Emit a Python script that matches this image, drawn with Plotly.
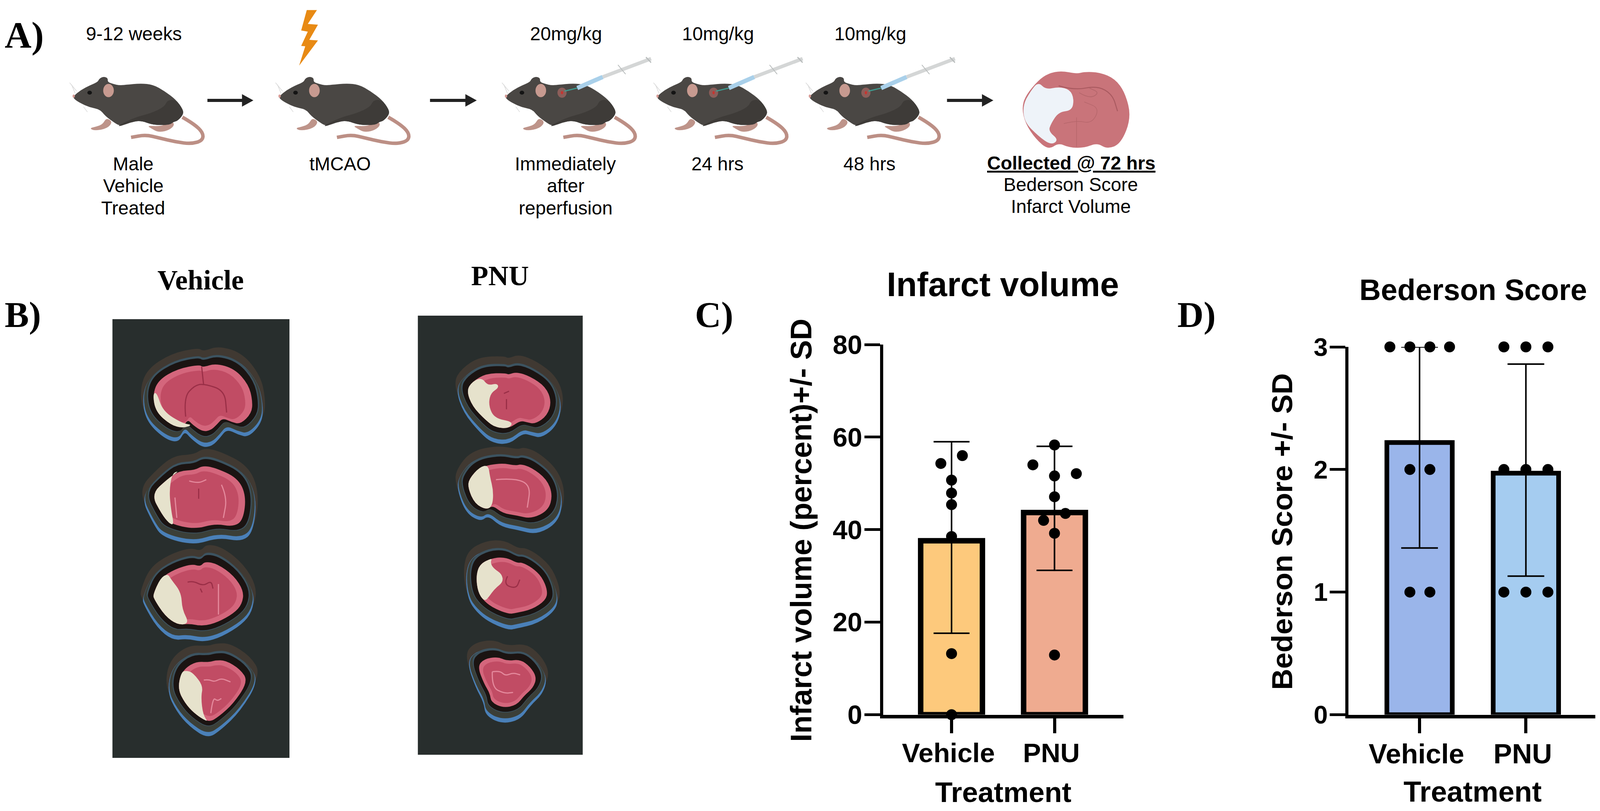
"""Infarct study figure: timeline, stained slices and two bar plots
"""
import plotly.graph_objects as go

# Size of the reference in pixels, everything below is placed in these coordinates
W = 4212
H = 2076
# What the plot really gets: the browser page, less the 8px body margin
PAGE_W = 4096
MARGIN = 8

##### Chart data #####
treatments = ['Vehicle', 'PNU']

infarct_bar = [37.6, 43.7]
infarct_upper = [59.0, 58.0]
infarct_lower = [17.6, 31.2]
infarct_vehicle_x = [-0.104, 0.105, 0, 0, 0, 0, 0, 0]
infarct_vehicle_y = [54.3, 56.0, 50.7, 47.9, 45.4, 38.5, 13.2, 0]
infarct_pnu_x = [-0.21, 0.212, 0, 0, 0, 0.106, -0.106, 0, 0]
infarct_pnu_y = [54.0, 52.1, 58.3, 51.6, 47.1, 43.5, 42.0, 39.2, 12.9]

bederson_bar = [2.22, 1.97]
bederson_upper = [3.0, 2.86]
bederson_lower = [1.36, 1.13]
bederson_vehicle_x = [-0.279, -0.091, 0.097, 0.282, -0.091, 0.097, -0.091, 0.097]
bederson_vehicle_y = [3, 3, 3, 3, 2, 2, 1, 1]
bederson_pnu_x = [-0.207, 0, 0.207, -0.207, 0, 0.207, -0.207, 0, 0.207]
bederson_pnu_y = [3, 3, 3, 2, 2, 2, 1, 1, 1]


##### Helper functions #####
def fx(x):
    return (x * PAGE_W / W - MARGIN) / (PAGE_W - 2 * MARGIN)


def fy(y):
    return 1 - (y - MARGIN) / (H - 2 * MARGIN)


def smooth(points, closed=True):
    """Quadratic path through the midpoints of a point list given in pixels"""
    pts = [(fx(x), fy(y)) for x, y in points]
    if closed:
        mid = lambda a, b: ((a[0] + b[0]) / 2, (a[1] + b[1]) / 2)
        start = mid(pts[-1], pts[0])
        d = f'M{start[0]:.5f},{start[1]:.5f}'
        for i, p in enumerate(pts):
            m = mid(p, pts[(i + 1) % len(pts)])
            d += f' Q{p[0]:.5f},{p[1]:.5f} {m[0]:.5f},{m[1]:.5f}'
        return d + ' Z'
    d = f'M{pts[0][0]:.5f},{pts[0][1]:.5f}'
    for i in range(1, len(pts) - 1):
        m = ((pts[i][0] + pts[i + 1][0]) / 2, (pts[i][1] + pts[i + 1][1]) / 2)
        d += f' Q{pts[i][0]:.5f},{pts[i][1]:.5f} {m[0]:.5f},{m[1]:.5f}'
    d += f' L{pts[-1][0]:.5f},{pts[-1][1]:.5f}'
    return d


def poly(points):
    return 'M' + ' L'.join(f'{fx(x):.5f},{fy(y):.5f}' for x, y in points) + ' Z'


shapes = []


def add_fill(path, color, opacity=1.0):
    shapes.append(dict(type='path', path=path, xref='paper', yref='paper', layer='below',
                       fillcolor=color, opacity=opacity, line=dict(width=0)))


def add_line(path, color, width, opacity=1.0):
    shapes.append(dict(type='path', path=path, xref='paper', yref='paper', layer='below',
                       line=dict(color=color, width=width), opacity=opacity))


def add_ellipse(cx, cy, rx, ry, color):
    shapes.append(dict(type='circle', xref='paper', yref='paper', layer='below',
                       x0=fx(cx - rx), x1=fx(cx + rx), y0=fy(cy + ry), y1=fy(cy - ry),
                       fillcolor=color, line=dict(width=0)))


def add_rect(x0, x1, y0, y1, color):
    shapes.append(dict(type='rect', xref='paper', yref='paper', layer='below',
                       x0=fx(x0), x1=fx(x1), y0=fy(y1), y1=fy(y0),
                       fillcolor=color, line=dict(width=0)))


annotations = []


def label(text, x, y, size, bold=False, family='Liberation Sans', anchor='center', angle=0):
    annotations.append(dict(text=text, x=fx(x), y=fy(y), xref='paper', yref='paper',
                            xanchor=anchor, yanchor='middle', showarrow=False, textangle=angle,
                            font=dict(family=family, size=size, color='black',
                                      weight=700 if bold else 400)))


##### Timeline drawings #####
MOUSE_BODY = [(68, 200), (130, 150), (200, 115), (262, 90), (275, 62), (310, 48), (342, 60), (340, 90), (385, 105),
              (430, 115), (480, 112), (600, 100), (700, 110), (790, 160), (880, 225), (935, 300), (938, 340),
              (890, 390), (860, 395), (830, 420), (700, 420), (600, 385), (520, 400), (440, 430), (390, 400),
              (320, 350), (280, 300), (200, 285), (120, 250), (75, 220)]
MOUSE_BELLY = [(420, 425), (560, 360), (680, 330), (790, 280), (810, 230), (880, 225), (935, 300), (938, 340),
               (890, 390), (860, 395), (830, 420), (700, 420), (600, 385), (520, 400), (440, 430)]
MOUSE_TAIL = [(930, 360), (1020, 410), (1095, 480), (1090, 540), (1000, 565), (880, 550), (750, 520), (640, 495), (525, 515)]
MOUSE_FRONT_FOOT = [(330, 365), (380, 395), (340, 445), (240, 465), (195, 445), (250, 432), (300, 415)]
MOUSE_BACK_FOOT = [(860, 395), (865, 430), (810, 465), (740, 475), (690, 450), (650, 425), (750, 430), (810, 410)]


def draw_mouse(dx, injected=False):
    to_px = lambda pts: [(170 + x / 3 + dx, 180 + y / 3) for x, y in pts]
    add_line(smooth(to_px(MOUSE_TAIL), closed=False), '#BC8F85', 9)
    add_fill(smooth(to_px(MOUSE_FRONT_FOOT)), '#BE948A')
    add_fill(smooth(to_px(MOUSE_BACK_FOOT)), '#BE948A')
    add_fill(smooth(to_px(MOUSE_BODY)), '#4A4744')
    add_fill(smooth(to_px(MOUSE_BELLY)), '#3E3B38')
    ex, ey = to_px([(347, 155)])[0]
    add_ellipse(ex, ey, 14, 17, '#C79A90')
    ex, ey = to_px([(198, 172)])[0]
    add_ellipse(ex, ey, 6, 5, '#141414')
    ex, ey = to_px([(72, 198)])[0]
    add_ellipse(ex, ey, 3, 4, '#D69A94')
    add_line(poly(to_px([(40, 95), (95, 160)])), '#D8D8D8', 1.5)
    add_line(poly(to_px([(55, 110), (85, 180)])), '#D8D8D8', 1.5)
    add_line(poly(to_px([(150, 280), (180, 320)])), '#D8D8D8', 1.5)
    if injected:
        # syringe
        to_px2 = lambda pts: [(x / 0.7467 + dx, y / 2.529) for x, y in pts]
        ex, ey = to_px2([(255, 600)])[0]
        add_ellipse(ex, ey, 12, 13, '#8C5E5A')
        add_ellipse(ex, ey, 3, 4, '#C8342F')
        add_line(poly(to_px2([(260, 590), (285, 570)])), '#3E9C90', 3)
        add_line(poly(to_px2([(285, 570), (335, 498)])), '#A9D0EA', 11)
        add_line(poly(to_px2([(335, 498), (430, 380)])), '#D4D6D6', 9)
        add_line(poly(to_px2([(365, 420), (380, 480)])), '#B8BCBC', 2)
        add_line(poly(to_px2([(420, 370), (430, 405)])), '#B8BCBC', 3)


for mouse_dx in [0, 542]:
    draw_mouse(mouse_dx)
for mouse_dx in [1138, 1537, 1938]:
    draw_mouse(mouse_dx, injected=True)

# Arrows between the steps
for x0, x1 in [(546, 667), (1132, 1255), (2493, 2615)]:
    add_rect(x0, x1 - 28, 253, 261, '#222222')
    add_fill(poly([(x1 - 30, 241), (x1, 257), (x1 - 30, 273)]), '#222222')

# Lightning bolt above the tMCAO mouse
bolt = [(603, 65), (623, 65), (605, 155), (625, 160), (608, 258), (625, 262), (588, 425), (600, 300),
        (592, 297), (605, 205), (592, 197)]
add_fill(poly([(x / 0.7467, y / 2.529) for x, y in bolt]), '#E88A14')

# Brain cartoon at the end of the timeline
to_brain = lambda pts: [(x / 0.7424 + 2100, y / 2.529) for x, y in pts]
add_fill(smooth(to_brain([(545, 478), (515, 458), (490, 475), (470, 520), (445, 620), (438, 700), (445, 800),
                          (465, 900), (490, 970), (510, 925), (530, 955), (560, 958), (585, 925), (605, 965),
                          (632, 930), (652, 760), (640, 600), (620, 510), (590, 468), (560, 465)])), '#C9747A')
add_fill(smooth(to_brain([(470, 530), (485, 580), (510, 562), (532, 580), (540, 640), (536, 715), (510, 725),
                          (495, 800), (490, 850), (510, 905), (495, 940), (470, 880), (443, 790), (440, 680),
                          (455, 590)])), '#EEF3F9')
add_line(smooth(to_brain([(510, 555), (540, 585), (585, 555), (615, 610), (625, 720)]), closed=False), '#A95A60', 2.5)
add_line(smooth(to_brain([(550, 600), (570, 640), (590, 600), (570, 570)]), closed=False), '#B5666B', 2)
add_line(smooth(to_brain([(545, 760), (545, 950)]), closed=False), '#B5666B', 1.5)
add_line(smooth(to_brain([(520, 800), (545, 780), (575, 800), (590, 700), (560, 660)]), closed=False), '#B5666B', 1.5)

##### Stained slices #####
add_rect(296, 762, 817, 1940, '#282E2D')
add_rect(1100, 1534, 808, 1932, '#282E2D')

DARK = '#9A2F47'
LIGHT = '#E4899C'

# box in pixels, outline and infarct in 0-1 box coordinates, inner lines as (colour, points)
slices = [
    dict(box=(402, 665, 930, 1105),
         outline=[(.50, 1.0), (.40, .90), (.35, .82), (.30, .95), (.18, .90), (.03, .71), (0, .45), (.06, .24), (.25, .08),
                  (.47, .02), (.50, .06), (.63, 0), (.82, .08), (.96, .31), (1.0, .55), (.99, .73), (.88, .89), (.79, .86),
                  (.70, .80), (.64, .90), (.58, .98)],
         pale=[(.03, .71), (0, .45), (.04, .42), (.1, .7), (.3, .88), (.40, .90), (.30, .95), (.18, .90)],
         lines=[(DARK, [(.33, .78), (.31, .50), (.42, .32), (.52, .30), (.72, .40), (.74, .72)]),
                (DARK, [(.49, .05), (.51, .32)])]),
    dict(box=(398, 648, 1192, 1355),
         outline=[(.46, .07), (.30, .08), (.17, .21), (0, .45), (.11, .76), (.19, .91), (.46, 1.0), (.67, .91), (.87, .96),
                  (.97, .85), (1.0, .47), (.91, .19), (.67, .03), (.54, 0)],
         pale=[(.30, .08), (.17, .21), (0, .45), (.11, .76), (.19, .91), (.24, .93), (.21, .7), (.19, .4), (.22, .12)],
         lines=[(LIGHT, [(.40, .24), (.49, .28), (.58, .22)]), (LIGHT, [(.25, .5), (.27, .82)]),
                (LIGHT, [(.74, .3), (.80, .5), (.76, .82)]), (DARK, [(.5, .36), (.5, .52)])]),
    dict(box=(403, 642, 1437, 1603),
         outline=[(.55, 1.0), (.40, .96), (.27, .98), (.13, .84), (.01, .58), (0, .51), (.08, .26), (.24, .12), (.43, .04),
                  (.52, .08), (.57, 0), (.71, .04), (.89, .22), (1.0, .46), (.98, .66), (.89, .80), (.71, .94)],
         pale=[(.40, .96), (.27, .98), (.13, .84), (.01, .58), (0, .51), (.08, .26), (.16, .19), (.2, .28), (.31, .48),
               (.32, .74)],
         lines=[(DARK, [(.38, .32), (.44, .30), (.55, .38), (.64, .30), (.66, .42)]),
                (LIGHT, [(.72, .35), (.72, .82)]), (DARK, [(.52, .42), (.54, .48)])]),
    dict(box=(468, 653, 1687, 1850),
         outline=[(.45, .05), (.24, .04), (.05, .2), (0, .47), (.1, .69), (.24, .86), (.44, 1.0), (.59, .9), (.8, .69),
                  (1.0, .35), (.89, .16), (.68, .02), (.53, .02)],
         pale=[(.05, .2), (0, .47), (.1, .69), (.24, .86), (.44, 1.0), (.36, .88), (.33, .6), (.36, .42), (.22, .22), (.13, .18)],
         lines=[(LIGHT, [(.37, .33), (.44, .32), (.52, .36), (.62, .30), (.75, .36)]),
                (LIGHT, [(.47, .85), (.50, .60), (.56, .66), (.62, .62)])]),
    dict(box=(1228, 1452, 952, 1097),
         outline=[(0, .33), (.07, .61), (.23, .86), (.34, .98), (.5, 1.0), (.63, .86), (.71, .89), (.81, .92), (.95, .77),
                  (1.0, .52), (.93, .26), (.75, .08), (.59, 0), (.49, .05), (.46, .02), (.23, .03), (.07, .17)],
         pale=[(.07, .17), (0, .33), (.07, .61), (.23, .86), (.34, .98), (.5, 1.0), (.55, .88), (.33, .82), (.26, .6),
               (.28, .38), (.38, .28), (.36, .2), (.25, .24), (.18, .10)],
         lines=[(DARK, [(.44, .38), (.50, .34)]), (DARK, [(.47, .48), (.47, .66)])]),
    dict(box=(1232, 1455, 1185, 1328),
         outline=[(.57, .05), (.39, 0), (.14, .07), (.01, .29), (0, .45), (.08, .73), (.22, .84), (.29, .76), (.41, .9),
                  (.57, .94), (.75, 1.0), (.95, .85), (1.0, .57), (.93, .29), (.75, .08), (.62, .02)],
         pale=[(.14, .07), (.01, .29), (0, .45), (.08, .73), (.22, .84), (.29, .76), (.30, .5), (.26, .25), (.24, .04)],
         lines=[(LIGHT, [(.33, .30), (.55, .27), (.74, .40), (.70, .80)])]),
    dict(box=(1253, 1442, 1425, 1572),
         outline=[(.57, .11), (.42, .01), (.23, .02), (.05, .13), (0, .35), (.03, .63), (.12, .78), (.25, .9), (.46, 1.0),
                  (.55, .98), (.78, .92), (.97, .76), (1.0, .6), (.92, .35), (.78, .19), (.64, .1)],
         pale=[(.23, .02), (.05, .13), (0, .35), (.03, .63), (.12, .78), (.18, .7), (.26, .56), (.38, .44), (.36, .3),
               (.24, .2), (.2, .1)],
         lines=[(DARK, [(.44, .34), (.38, .48), (.56, .56), (.61, .40)])]),
    dict(box=(1257, 1413, 1680, 1812),
         outline=[(.5, .09), (.34, .01), (.11, .05), (0, .2), (.11, .53), (.21, .72), (.23, .89), (.43, 1.0), (.66, .95),
                  (.79, .76), (.94, .61), (1.0, .41), (.89, .2), (.72, .06)],
         pale=[],
         lines=[(LIGHT, [(.25, .30), (.38, .28), (.47, .38), (.60, .32), (.72, .36)]),
                (LIGHT, [(.25, .30), (.24, .60), (.45, .72), (.60, .70)])]),
]


def draw_slice(box, outline, pale, lines):
    x0, x1, y0, y1 = box
    w = x1 - x0
    h = y1 - y0
    cx = (x0 + x1) / 2
    cy = (y0 + y1) / 2
    to_px = lambda pts: [(x0 + w * u, y0 + h * v) for u, v in pts]

    def grown(pad_x, pad_y, shift=0.0):
        # outline pushed outwards by a number of pixels
        return [(cx + (u - 0.5) * (w + 2 * pad_x), cy + (v - 0.5) * (h + 2 * pad_y) + shift) for u, v in outline]

    add_fill(smooth(grown(34, 36, -9)), '#4A3E34', 0.7)
    add_fill(smooth(grown(28, 32, 9)), '#4A80B8')
    add_fill(smooth(grown(26, 26, 4)), '#3B3F38')
    add_fill(smooth(grown(18, 20, -5)), '#3C5360')
    add_fill(smooth(grown(15, 16, -3)), '#1B1412')
    add_fill(smooth(grown(0, 0)), '#D4667C')
    add_fill(smooth(grown(-w * 0.07, -h * 0.08)), '#C14C64')
    for color, pts in lines:
        add_line(smooth(to_px(pts), closed=False), color, 3)
    if pale:
        add_fill(smooth(to_px(pale)), '#E6E2CC')


for s in slices:
    draw_slice(**s)

##### Text outside the axes #####
label('A)', 10, 90, 95, True, 'Liberation Serif', 'left')
label('B)', 10, 805, 93, True, 'Liberation Serif', 'left')
label('C)', 1827, 805, 93, True, 'Liberation Serif', 'left')
label('D)', 3097, 805, 93, True, 'Liberation Serif', 'left')

label('9-12 weeks', 352, 87, 48)
label('20mg/kg', 1490, 87, 48)
label('10mg/kg', 1890, 87, 48)
label('10mg/kg', 2291, 87, 48)
for text, y in zip(['Male', 'Vehicle', 'Treated'], [420, 476, 532]):
    label(text, 351, y, 48)
label('tMCAO', 895, 420, 48)
for text, y in zip(['Immediately', 'after', 'reperfusion'], [420, 476, 532]):
    label(text, 1489, y, 48)
label('24 hrs', 1888, 420, 48)
label('48 hrs', 2289, 420, 48)
label('<u>Collected @ 72 hrs</u>', 2820, 417, 48, True)
label('Bederson Score', 2819, 472, 48)
label('Infarct Volume', 2819, 528, 48)

label('Vehicle', 528, 717, 72, True, 'Liberation Serif')
label('PNU', 1316, 706, 72, True, 'Liberation Serif')

label('Infarct volume', 2640, 727, 87, True)
label('Bederson Score', 3878, 741, 76, True)
label('Treatment', 2641, 2027, 73, True)
label('Treatment', 3877, 2026, 74, True)
label('Infarct volume (percent)+/- SD', 2108, 1357, 76, True, angle=-90)
label('Bederson Score +/- SD', 3375, 1361, 75, True, angle=-90)


##### Bar plots #####
def add_bars(fig, xaxis, yaxis, bar, upper, lower, colors, points, stroke):
    fig.add_trace(go.Bar(x=[0, 1], y=bar, width=stroke['width'], xaxis=xaxis, yaxis=yaxis,
                         marker=dict(color=colors, line=dict(color='black', width=stroke['line'])),
                         error_y=dict(type='data', symmetric=False,
                                      array=[u - b for u, b in zip(upper, bar)],
                                      arrayminus=[b - l for l, b in zip(lower, bar)],
                                      color='black', thickness=4, width=stroke['cap'])))
    for px_, py_, center in points:
        fig.add_trace(go.Scatter(x=[center + p for p in px_], y=py_, mode='markers', xaxis=xaxis, yaxis=yaxis,
                                 cliponaxis=False, marker=dict(color='black', size=28)))


fig = go.Figure()

add_bars(fig, 'x', 'y', infarct_bar, infarct_upper, infarct_lower, ['#FDC97C', '#EFAB90'],
         [(infarct_vehicle_x, infarct_vehicle_y, 0), (infarct_pnu_x, infarct_pnu_y, 1)],
         dict(width=0.60, line=14, cap=46))
add_bars(fig, 'x2', 'y2', bederson_bar, bederson_upper, bederson_lower, ['#9AB5EA', '#A5CCF0'],
         [(bederson_vehicle_x, bederson_vehicle_y, 0), (bederson_pnu_x, bederson_pnu_y, 1)],
         dict(width=0.615, line=12, cap=47))

x_style = dict(tickmode='array', tickvals=[0, 1], ticktext=treatments, ticks='outside', ticklen=38, tickwidth=8,
               linewidth=9, linecolor='black', tickcolor='black', showgrid=False, zeroline=False,
               ticklabelstandoff=-8, ticklabelshift=-8)
y_style = dict(ticks='outside', ticklen=40, tickwidth=7, linewidth=8, linecolor='black', tickcolor='black',
               showgrid=False, zeroline=False, ticklabelstandoff=-8)

fig.update_layout(
    margin=dict(l=0, r=0, t=0, b=0), showlegend=False, template='none',
    paper_bgcolor='white', plot_bgcolor='rgba(0,0,0,0)', shapes=shapes, annotations=annotations,
    xaxis=dict(domain=[fx(2325), fx(2957)], range=[-0.664, 1.668], anchor='y',
               tickfont=dict(family='Liberation Sans', size=69, color='black', weight=700), **x_style),
    yaxis=dict(domain=[fy(1829.5), fy(882)], range=[0, 80], tickvals=[0, 20, 40, 60, 80], anchor='x',
               tickfont=dict(family='Liberation Sans', size=68, color='black', weight=700), **y_style),
    xaxis2=dict(domain=[fx(3550), fx(4200)], range=[-0.668, 1.654], anchor='y2',
                tickfont=dict(family='Liberation Sans', size=71, color='black', weight=700), **x_style),
    yaxis2=dict(domain=[fy(1829.5), fy(888)], range=[0, 3], tickvals=[0, 1, 2, 3], anchor='x2',
                tickfont=dict(family='Liberation Sans', size=65, color='black', weight=700), **y_style),
)

fig.write_html("out.html")
